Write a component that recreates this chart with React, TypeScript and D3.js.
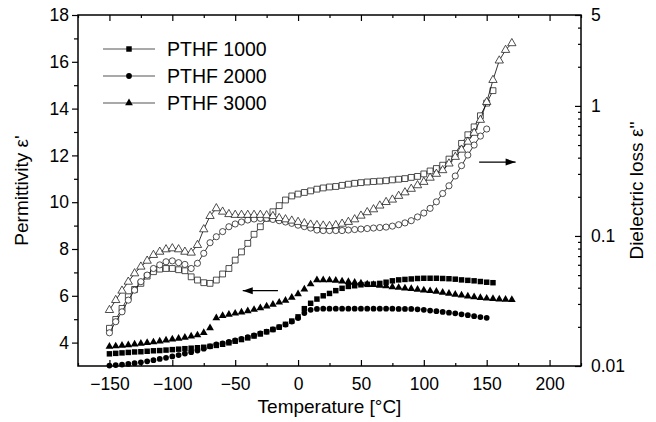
import React, { useRef, useEffect } from "react";
import * as d3 from "d3";

// temperature grid (°C), 5 K steps
const TEMPS = [
  -150, -145, -140, -135, -130, -125, -120, -115, -110, -105,
  -100, -95, -90, -85, -80, -75, -70, -65, -60, -55,
  -50, -45, -40, -35, -30, -25, -20, -15, -10, -5,
  0, 5, 10, 15, 20, 25, 30, 35, 40, 45,
  50, 55, 60, 65, 70, 75, 80, 85, 90, 95,
  100, 105, 110, 115, 120, 125, 130, 135, 140, 145,
  150, 155, 160, 165, 170,
];

// permittivity ε' (left axis, filled symbols)
const PERM_1000 = [
  3.52, 3.54, 3.56, 3.58, 3.6, 3.61, 3.63, 3.65, 3.66, 3.68,
  3.7, 3.72, 3.74, 3.76, 3.78, 3.8, 3.84, 3.88, 3.93, 3.99,
  4.06, 4.13, 4.2, 4.28, 4.37, 4.46, 4.56, 4.66, 4.78, 4.92,
  5.1, 5.45, 5.68, 5.86, 6.0, 6.1, 6.22, 6.32, 6.4, 6.43,
  6.47, 6.49, 6.5, 6.53, 6.58, 6.64, 6.68, 6.7, 6.72, 6.74,
  6.75, 6.75, 6.75, 6.74, 6.73, 6.71, 6.68, 6.66, 6.64, 6.61,
  6.58, 6.56,
];
const PERM_2000 = [
  3.02, 3.04, 3.06, 3.09, 3.12, 3.16, 3.2, 3.25, 3.3, 3.35,
  3.41, 3.47, 3.53, 3.59, 3.66, 3.74, 3.84, 3.92, 3.97, 4.03,
  4.09, 4.16, 4.23, 4.31, 4.39, 4.47, 4.56, 4.66, 4.77, 4.9,
  5.05, 5.26, 5.4, 5.44, 5.45, 5.45, 5.45, 5.45, 5.45, 5.45,
  5.45, 5.45, 5.45, 5.45, 5.45, 5.45, 5.44, 5.44, 5.44, 5.42,
  5.4, 5.37, 5.34, 5.31, 5.28, 5.25, 5.21, 5.17, 5.13, 5.09,
  5.06,
];
const PERM_3000 = [
  3.83, 3.85, 3.88, 3.9, 3.93, 3.96, 3.99, 4.02, 4.06, 4.1,
  4.14, 4.18, 4.22, 4.27, 4.32, 4.42, 4.62, 5.05, 5.15, 5.2,
  5.25, 5.3, 5.35, 5.41, 5.48, 5.55, 5.63, 5.72, 5.8, 5.93,
  6.08, 6.28, 6.5, 6.68, 6.68, 6.67, 6.65, 6.62, 6.6, 6.57,
  6.54, 6.5, 6.47, 6.44, 6.42, 6.38, 6.35, 6.32, 6.3, 6.27,
  6.24, 6.21, 6.18, 6.14, 6.1, 6.06, 6.02, 5.98, 5.95, 5.92,
  5.89, 5.87, 5.85, 5.84, 5.83,
];

// dielectric loss ε'' (right axis, open symbols)
const LOSS_1000 = [
  0.0195, 0.0228, 0.0277, 0.0341, 0.0388, 0.0432, 0.0491, 0.0531, 0.0556, 0.0562,
  0.0562, 0.055, 0.054, 0.0485, 0.0458, 0.0437, 0.0432, 0.0458, 0.051, 0.0562,
  0.0652, 0.0754, 0.0877, 0.103, 0.1177, 0.1364, 0.1535, 0.171, 0.189, 0.203,
  0.21, 0.216, 0.222, 0.229, 0.234, 0.238, 0.24, 0.245, 0.25, 0.254,
  0.257, 0.26, 0.262, 0.264, 0.266, 0.27, 0.273, 0.276, 0.282, 0.287,
  0.3, 0.316, 0.33, 0.35, 0.39, 0.43, 0.515, 0.6, 0.69, 0.84,
  1.05, 1.31,
];
const LOSS_2000 = [
  0.018, 0.0219, 0.0261, 0.0321, 0.0383, 0.0445, 0.05, 0.0562, 0.0599, 0.0633,
  0.0643, 0.0623, 0.0604, 0.0562, 0.0616, 0.0735, 0.0887, 0.0986, 0.108, 0.1177,
  0.1236, 0.128, 0.1326, 0.135, 0.1365, 0.1365, 0.134, 0.131, 0.128, 0.125,
  0.121, 0.118, 0.115, 0.111, 0.11, 0.11, 0.11, 0.11, 0.111, 0.112,
  0.113, 0.114, 0.115, 0.116, 0.117, 0.119, 0.122, 0.126, 0.131, 0.14,
  0.15, 0.163, 0.183, 0.212, 0.243, 0.289, 0.347, 0.419, 0.5, 0.586,
  0.664,
];
const LOSS_3000 = [
  0.0269, 0.0321, 0.0379, 0.0444, 0.0515, 0.058, 0.0644, 0.0713, 0.0755, 0.0788,
  0.0802, 0.0788, 0.0755, 0.0743, 0.0851, 0.1123, 0.1422, 0.163, 0.1535, 0.147,
  0.145, 0.145, 0.145, 0.145, 0.145, 0.144, 0.142, 0.137, 0.134, 0.131,
  0.128, 0.125, 0.122, 0.121, 0.12, 0.119, 0.121, 0.124, 0.128, 0.134,
  0.143, 0.152, 0.16, 0.171, 0.182, 0.19, 0.203, 0.216, 0.23, 0.245,
  0.26, 0.28, 0.3, 0.32, 0.36, 0.405, 0.46, 0.53, 0.62, 0.78,
  1.07, 1.58, 2.23, 2.69, 3.03,
];

const SERIES_NAMES = ["PTHF 1000", "PTHF 2000", "PTHF 3000"];
const X_TICKS = [-150, -100, -50, 0, 50, 100, 150, 200];
const LEFT_TICKS = [4, 6, 8, 10, 12, 14, 16, 18];
const RIGHT_TICKS = [0.01, 0.1, 1, 5];

const FONT = "'Liberation Sans', Arial, sans-serif";

const App = () => {
  const svgRef = useRef(null);

  useEffect(() => {
    const svg = d3.select(svgRef.current);
    svg.selectAll("*").remove();

    const width = 656;
    const height = 422;
    const margin = { top: 15, right: 75, bottom: 56, left: 78 };
    const x0 = margin.left;
    const x1 = width - margin.right;
    const y0 = margin.top;
    const y1 = height - margin.bottom;

    const x = d3.scaleLinear().domain([-175, 225]).range([x0, x1]);
    const yL = d3.scaleLinear().domain([3, 18]).range([y1, y0]);
    const yR = d3.scaleLog().domain([0.01, 5]).range([y1, y0]);

    const symbols = [d3.symbolSquare, d3.symbolCircle, d3.symbolTriangle];
    const solidSize = [30, 26, 26];
    const openSize = [34, 30, 30];
    const perm = [PERM_1000, PERM_2000, PERM_3000];
    const loss = [LOSS_1000, LOSS_2000, LOSS_3000];

    const axisStyle = (g) => {
      g.select(".domain").remove();
      g.selectAll("line").attr("stroke", "#000").attr("stroke-width", 1.2);
      g.selectAll("text")
        .attr("font-family", FONT)
        .attr("font-size", 17.5)
        .attr("fill", "#000");
    };

    // x axis bottom + top (inward ticks)
    const xMinor = d3.range(-175, 226, 25).filter((v) => v % 50 !== 0);
    svg.append("g")
      .attr("transform", `translate(0,${y1})`)
      .call(d3.axisBottom(x).tickValues(X_TICKS).tickSize(-6).tickPadding(12).tickFormat(d3.format("d")))
      .call(axisStyle);
    svg.append("g")
      .attr("transform", `translate(0,${y1})`)
      .call(d3.axisBottom(x).tickValues(xMinor).tickSize(-3).tickFormat(() => ""))
      .call(axisStyle);
    svg.append("g")
      .attr("transform", `translate(0,${y0})`)
      .call(d3.axisTop(x).tickValues(X_TICKS).tickSize(-6).tickFormat(() => ""))
      .call(axisStyle);
    svg.append("g")
      .attr("transform", `translate(0,${y0})`)
      .call(d3.axisTop(x).tickValues(xMinor).tickSize(-3).tickFormat(() => ""))
      .call(axisStyle);

    // left axis (outward ticks)
    svg.append("g")
      .attr("transform", `translate(${x0},0)`)
      .call(d3.axisLeft(yL).tickValues(LEFT_TICKS).tickSize(6).tickPadding(3))
      .call(axisStyle);
    svg.append("g")
      .attr("transform", `translate(${x0},0)`)
      .call(d3.axisLeft(yL).tickValues([5, 7, 9, 11, 13, 15, 17]).tickSize(4).tickFormat(() => ""))
      .call(axisStyle);

    // right axis, log (inward ticks)
    const rMinor = [];
    [0.01, 0.1, 1].forEach((d) => {
      for (let k = 2; k <= 9; k++) if (d * k < 5) rMinor.push(d * k);
    });
    svg.append("g")
      .attr("transform", `translate(${x1},0)`)
      .call(d3.axisRight(yR).tickValues(RIGHT_TICKS).tickSize(-6).tickPadding(10).tickFormat((d) => `${d}`))
      .call(axisStyle);
    svg.append("g")
      .attr("transform", `translate(${x1},0)`)
      .call(d3.axisRight(yR).tickValues(rMinor).tickSize(-3).tickFormat(() => ""))
      .call(axisStyle);

    // frame
    svg.append("rect")
      .attr("x", x0).attr("y", y0)
      .attr("width", x1 - x0).attr("height", y1 - y0)
      .attr("fill", "none").attr("stroke", "#000").attr("stroke-width", 1.5);

    const plot = svg.append("g");

    // loss curves (open symbols + thin lines)
    loss.forEach((vals, i) => {
      const pts = vals.map((v, j) => [TEMPS[j], v]);
      plot.append("path")
        .datum(pts)
        .attr("fill", "none")
        .attr("stroke", "#000")
        .attr("stroke-width", 0.8)
        .attr("d", d3.line().x((d) => x(d[0])).y((d) => yR(d[1])));
      plot.selectAll(null)
        .data(pts)
        .enter()
        .append("path")
        .attr("transform", (d) => `translate(${x(d[0])},${yR(d[1])})`)
        .attr("d", d3.symbol().type(symbols[i]).size(openSize[i]))
        .attr("fill", "#fff")
        .attr("stroke", "#222")
        .attr("stroke-width", 0.8);
    });

    // permittivity (filled symbols)
    perm.forEach((vals, i) => {
      const pts = vals.map((v, j) => [TEMPS[j], v]);
      plot.selectAll(null)
        .data(pts)
        .enter()
        .append("path")
        .attr("transform", (d) => `translate(${x(d[0])},${yL(d[1])})`)
        .attr("d", d3.symbol().type(symbols[i]).size(solidSize[i]))
        .attr("fill", "#000");
    });

    // arrows
    const arrow = (xa, xb, y, dir) => {
      plot.append("line")
        .attr("x1", xa).attr("x2", xb).attr("y1", y).attr("y2", y)
        .attr("stroke", "#000").attr("stroke-width", 1.2);
      const tip = dir < 0 ? xa : xb;
      plot.append("path")
        .attr("d", `M${tip},${y} L${tip - dir * 10},${y - 3.5} L${tip - dir * 10},${y + 3.5} Z`)
        .attr("fill", "#000");
    };
    arrow(x(-44), x(-16), yL(6.22), -1);
    arrow(x(144), x(173), yR(0.37), 1);

    // legend
    const legend = svg.append("g");
    SERIES_NAMES.forEach((name, i) => {
      const ly = 49 + i * 27;
      legend.append("line")
        .attr("x1", 103).attr("x2", 155).attr("y1", ly).attr("y2", ly)
        .attr("stroke", "#555").attr("stroke-width", 1.2);
      legend.append("path")
        .attr("transform", `translate(129,${ly})`)
        .attr("d", d3.symbol().type(symbols[i]).size(solidSize[i]))
        .attr("fill", "#000");
      legend.append("text")
        .attr("x", 167).attr("y", ly)
        .attr("dy", "0.35em")
        .attr("font-family", FONT).attr("font-size", 19.5)
        .text(name);
    });

    // axis titles
    svg.append("text")
      .attr("x", (x0 + x1) / 2).attr("y", 413)
      .attr("text-anchor", "middle")
      .attr("font-family", FONT).attr("font-size", 19)
      .text("Temperature [°C]");
    svg.append("text")
      .attr("transform", `translate(28,${(y0 + y1) / 2}) rotate(-90)`)
      .attr("text-anchor", "middle")
      .attr("font-family", FONT).attr("font-size", 19)
      .text("Permittivity ε'");
    svg.append("text")
      .attr("transform", `translate(643,${(y0 + y1) / 2}) rotate(-90)`)
      .attr("text-anchor", "middle")
      .attr("font-family", FONT).attr("font-size", 19)
      .text("Dielectric loss ε''");
  }, []);

  return (
    <div style={{ position: "absolute", left: 0, top: 0, background: "#fff" }}>
      <svg ref={svgRef} width={656} height={422} />
    </div>
  );
};

export default App;
